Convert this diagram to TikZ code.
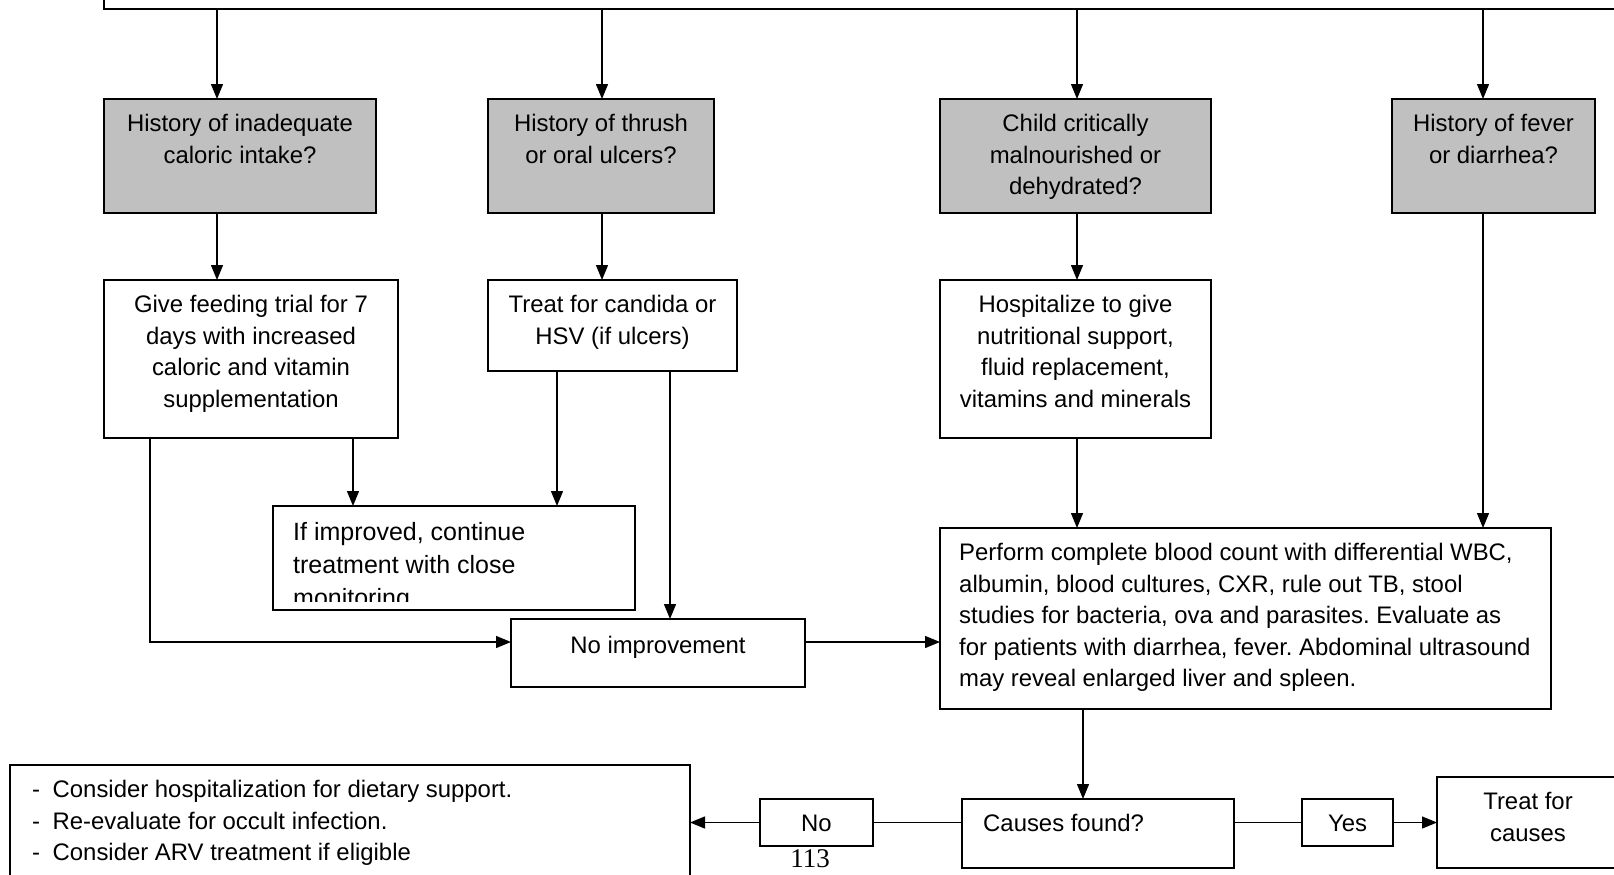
\documentclass[tikz,border=0pt]{standalone}
\usepackage{fontspec}
\setmainfont{Liberation Sans}
\newfontfamily\pagenofont{Liberation Serif}
\usetikzlibrary{arrows.meta}
\definecolor{qgray}{RGB}{192,192,192}
\frenchspacing
\begin{document}
\begin{tikzpicture}[x=1pt,y=1pt,
  box/.style={draw=black, line width=1.5pt, inner sep=0pt, outer sep=0pt, anchor=north west},
  qbox/.style={box, fill=qgray},
  txt/.style={inner sep=0pt, font=\fontsize{23.9}{31.5}\selectfont},
  ctxt/.style={txt, align=center, anchor=north},
  ltxt/.style={txt, align=left, anchor=north west},
  link/.style={line width=1.3pt},
  arr/.style={link, -{Triangle[length=15pt,width=12pt]}}]
\useasboundingbox (0,0) rectangle (1614,-875);
\clip (0,0) rectangle (1614,-875);

% column and row guides for the connectors
\coordinate (c1) at (217,0);
\coordinate (c2) at (602,0);
\coordinate (c3) at (1077,0);
\coordinate (c4) at (1483,0);
\coordinate (cw) at (150,0);
\coordinate (ci1) at (353,0);
\coordinate (ci2) at (557,0);
\coordinate (cn) at (670,0);
\coordinate (cb) at (1083,0);
\coordinate (rn) at (0,-642);

% top box
\node[box, anchor=south west, minimum width=1600, minimum height=80] (top) at (104,-9) {};

% question boxes
\node[qbox, minimum width=272, minimum height=114] (g1) at (104,-99) {};
\node[qbox, minimum width=226, minimum height=114] (g2) at (488,-99) {};
\node[qbox, minimum width=271, minimum height=114] (g3) at (940,-99) {};
\node[qbox, minimum width=203, minimum height=114] (g4) at (1392,-99) {};
\node[ctxt] (g1t) at ([yshift=-10.5pt]g1.north) {\strut History of inadequate\\caloric intake?};
\node[ctxt] (g2t) at ([yshift=-10.5pt]g2.north) {\strut History of thrush\\or oral ulcers?};
\node[ctxt] (g3t) at ([yshift=-10.5pt]g3.north) {\strut Child critically\\malnourished or\\dehydrated?};
\node[ctxt] (g4t) at ([yshift=-10.5pt]g4.north) {\strut History of fever\\or diarrhea?};

% action boxes
\node[box, minimum width=294, minimum height=158] (w1) at (104,-280) {};
\node[box, minimum width=249, minimum height=91] (w2) at (488,-280) {};
\node[box, minimum width=271, minimum height=158] (w3) at (940,-280) {};
\node[ctxt] (w1t) at ([yshift=-10.5pt]w1.north) {\strut Give feeding trial for 7\\days with increased\\caloric and vitamin\\supplementation};
\node[ctxt] (w2t) at ([yshift=-10.5pt]w2.north) {\strut Treat for candida or\\HSV (if ulcers)};
\node[ctxt] (w3t) at ([yshift=-10.5pt]w3.north) {\strut Hospitalize to give\\nutritional support,\\fluid replacement,\\vitamins and minerals};

% improvement box, text cut at its lower edge
\node[box, minimum width=362, minimum height=104] (imp) at (273,-506) {};
\begin{scope}
  \clip (imp.north west) rectangle ([yshift=9pt]imp.south east);
  \node[ltxt, font=\fontsize{25}{33}\selectfont] (impt) at ([xshift=20pt,yshift=-11pt]imp.north west)
    {\strut If improved, continue\\treatment with close\\monitoring};
\end{scope}

\node[box, minimum width=294, minimum height=68] (noimp) at (511,-619) {};
\node[ctxt] (noimpt) at ([yshift=-12pt]noimp.north) {\strut No improvement};

% work-up box
\node[box, minimum width=611, minimum height=181] (big) at (940,-528) {};
\node[ltxt] (bigt) at ([xshift=19pt,yshift=-10.5pt]big.north west)
  {\strut Perform complete blood count with differential WBC,\\
   albumin, blood cultures, CXR, rule out TB, stool\\
   studies for bacteria, ova and parasites. Evaluate as\\
   for patients with diarrhea, fever. Abdominal ultrasound\\
   may reveal enlarged liver and spleen.};

% bottom row
\node[box, minimum width=272, minimum height=69] (causes) at (962,-799) {};
\node[ltxt] (causest) at ([xshift=21pt,yshift=-10.5pt]causes.north west) {\strut Causes found?};
\node[box, minimum width=91, minimum height=47] (yes) at (1302,-799) {};
\node[ctxt] (yest) at ([yshift=-10.5pt]yes.north) {\strut Yes};
\node[box, minimum width=182, minimum height=91] (treat) at (1437,-777) {};
\node[ctxt] (treatt) at ([yshift=-10.5pt]treat.north) {\strut Treat for\\causes};
\node[box, minimum width=113, minimum height=47] (no) at (760,-799) {};
\node[ctxt] (not) at ([yshift=-10.5pt]no.north) {\strut No};
\node[box, minimum width=680, minimum height=130] (left) at (10,-765) {};
\node[ltxt] (leftt) at ([xshift=22pt,yshift=-10.5pt]left.north west)
  {\strut\makebox[20.5pt][l]{-}Consider hospitalization for dietary support.\\
   \makebox[20.5pt][l]{-}Re-evaluate for occult infection.\\
   \makebox[20.5pt][l]{-}Consider ARV treatment if eligible};

\node[inner sep=0pt, anchor=base, font=\pagenofont\fontsize{27}{30}\selectfont] (pageno) at (810,-867) {113};

% connectors
\draw[arr] (top.south -| c1) -- (g1.north -| c1);
\draw[arr] (top.south -| c2) -- (g2.north -| c2);
\draw[arr] (top.south -| c3) -- (g3.north -| c3);
\draw[arr] (top.south -| c4) -- (g4.north -| c4);
\draw[arr] (g1.south -| c1) -- (w1.north -| c1);
\draw[arr] (g2.south -| c2) -- (w2.north -| c2);
\draw[arr] (g3.south -| c3) -- (w3.north -| c3);
\draw[arr] (w1.south -| ci1) -- (imp.north -| ci1);
\draw[arr] (w2.south -| ci2) -- (imp.north -| ci2);
\draw[arr] (w1.south -| cw) |- (noimp.west |- rn);
\draw[arr] (w2.south -| cn) -- (noimp.north -| cn);
\draw[arr] (noimp.east |- rn) -- (big.west |- rn);
\draw[arr] (w3.south -| c3) -- (big.north -| c3);
\draw[arr] (g4.south -| c4) -- (big.north -| c4);
\draw[arr] (big.south -| cb) -- (causes.north -| cb);
\draw[link] (causes.east |- yes.west) -- (yes.west);
\draw[arr] (yes.east) -- (treat.west |- yes.east);
\draw[link] (causes.west |- no.east) -- (no.east);
\draw[arr] (no.west) -- (left.east |- no.west);
\end{tikzpicture}
\end{document}
